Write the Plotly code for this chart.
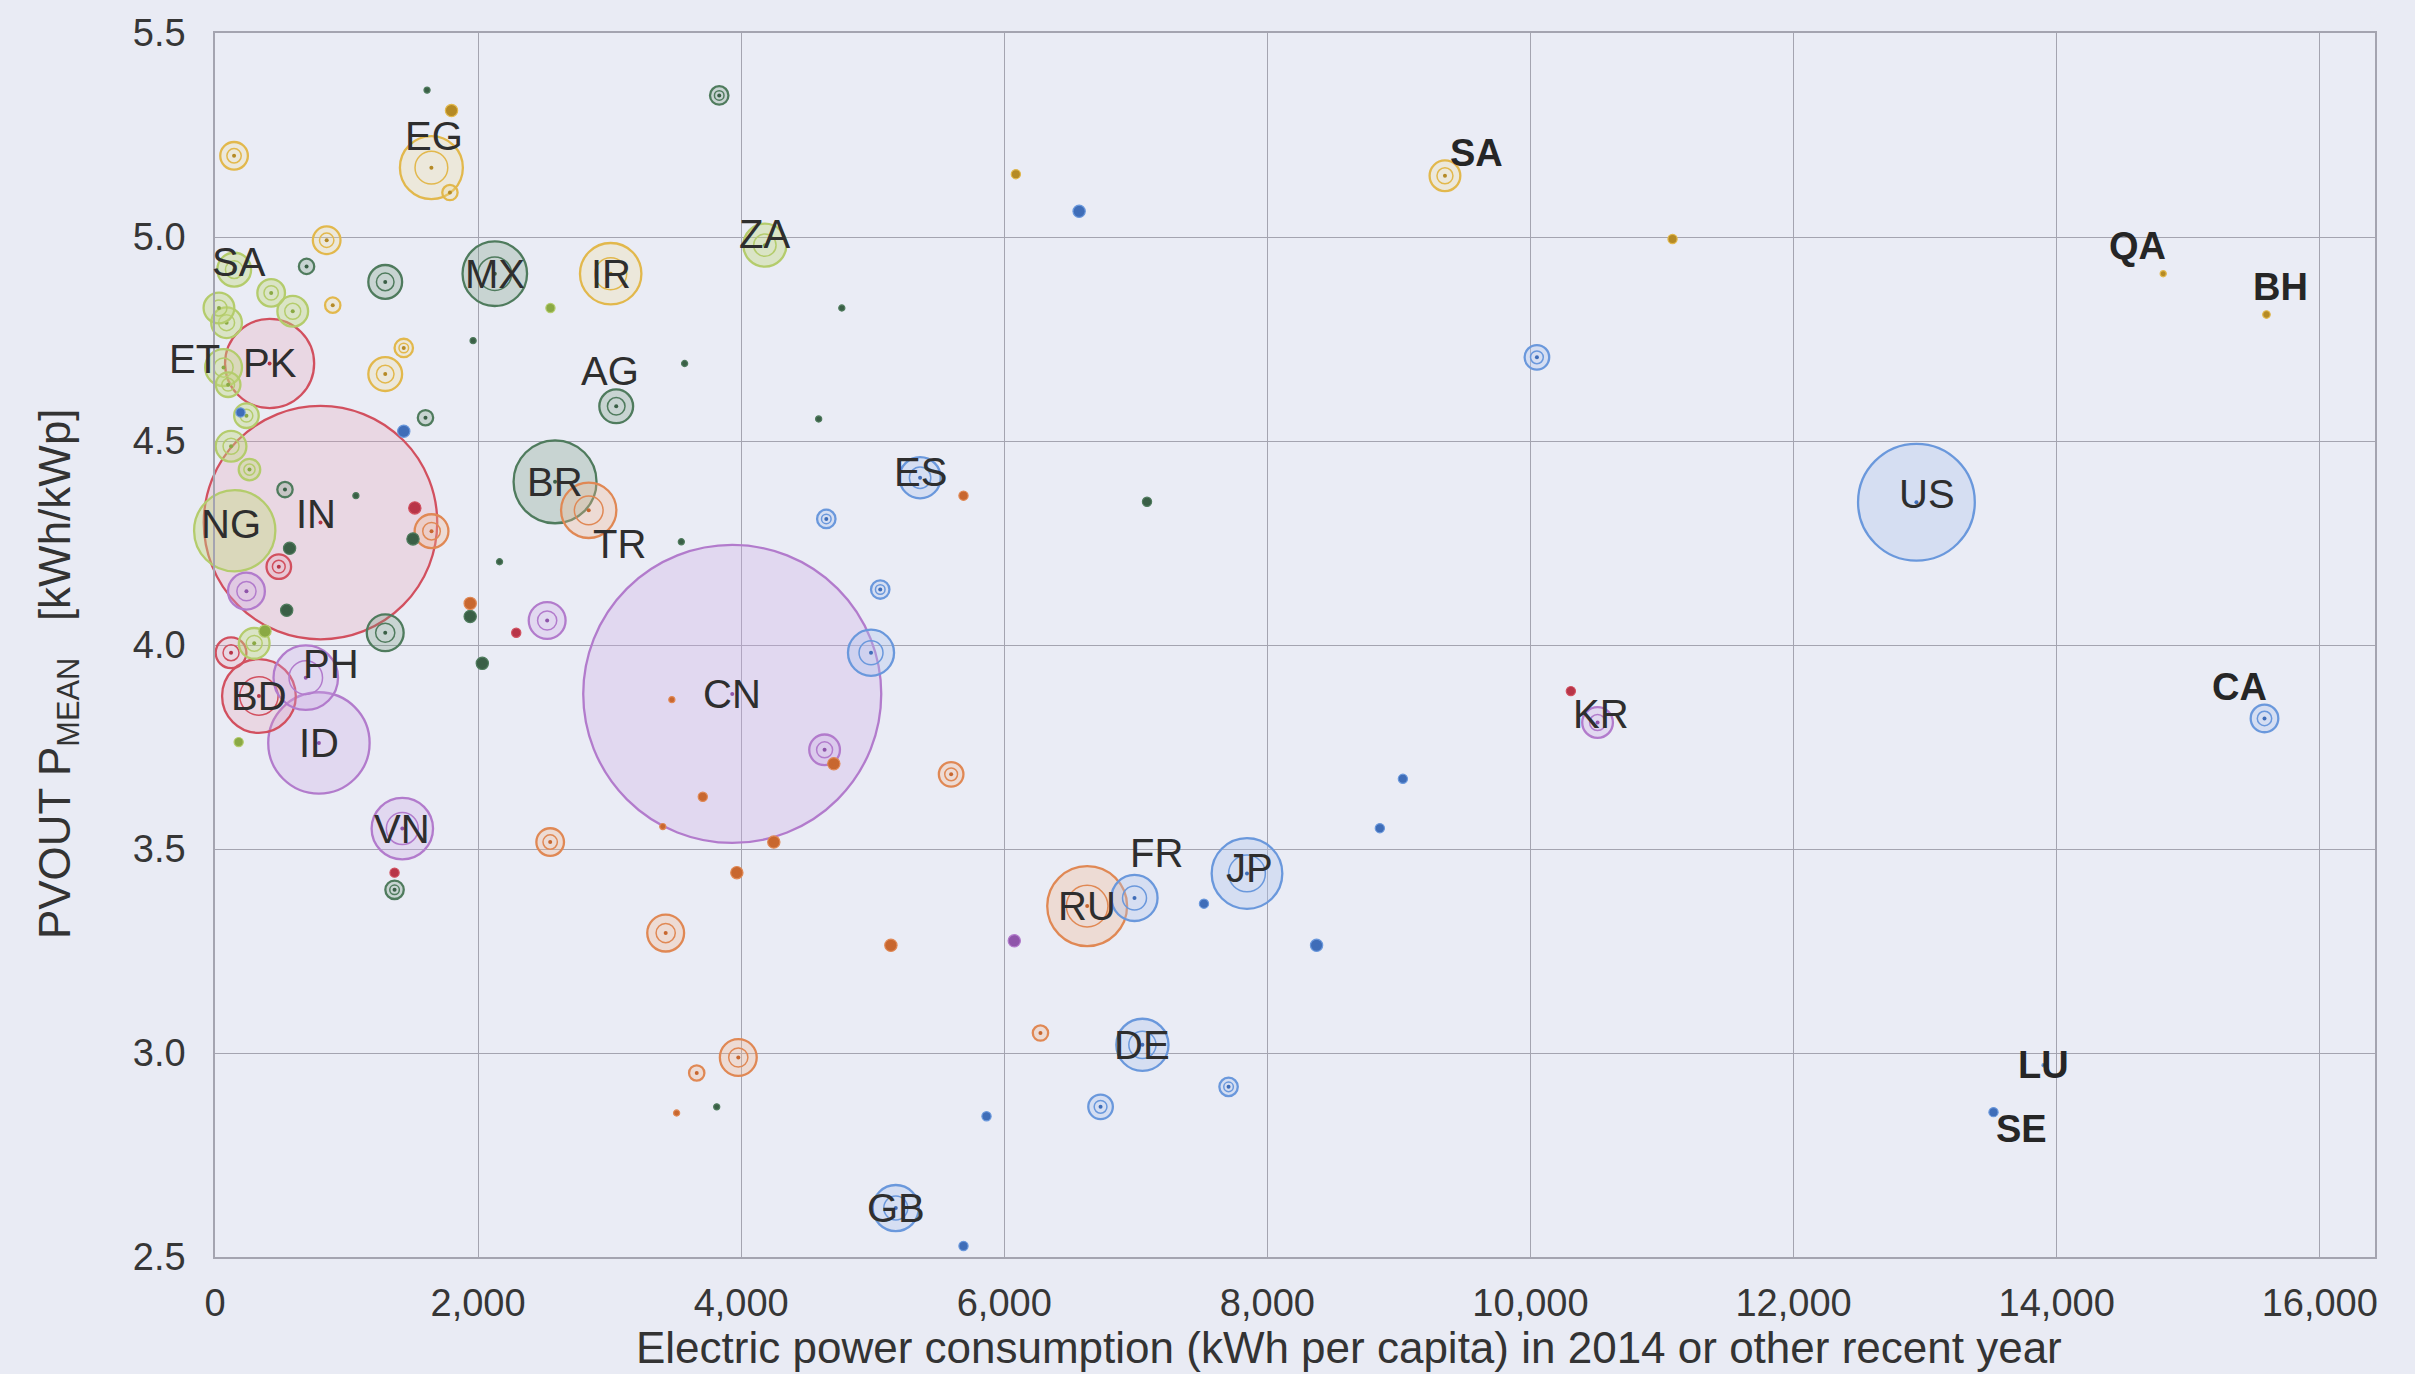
import numpy as np
import plotly.graph_objects as go

# Country code (blank = unlabelled), per-capita electricity use, mean PV output,
# bubble weight and regional group
codes = [
    "IN", "CN", "US", "PK", "BD", "ID", "PH", "NG", "VN", "BR",
    "MX", "IR", "EG", "ZA", "AG", "TR", "ES", "RU", "FR", "JP",
    "DE", "GB", "KR", "CA", "SA", "QA", "BH", "SE", "LU", "ET",
    "SA",
    "", "", "", "", "", "", "", "", "", "",
    "", "", "", "", "", "", "", "", "", "",
    "", "", "", "", "", "", "", "", "", "",
    "", "", "", "", "", "", "", "", "", "",
    "", "", "", "", "", "", "", "", "", "",
    "", "", "", "", "", "", "", "", "", "",
    "", "", "", "", "", "", "",
]
kwh = [
    802, 3932, 12934, 415, 334, 790, 690, 150, 1424, 2585,
    2127, 3008, 1645, 4180, 3050, 2841, 5360, 6630, 6990, 7845,
    7050, 5175, 10510, 15580, 9350, 14810, 15595, 13520, 13900, 65,
    146,
    3833, 145, 1786, 1798, 1612, 6088, 6569, 11080, 10049, 849,
    696, 1294, 895, 427, 591, 1294, 1435, 1600, 1435, 2550,
    3570, 4765, 4589, 4647, 5057, 5690, 7085, 3545, 2163, 1940,
    1940, 2525, 2290, 2032, 1294, 1646, 1519, 1505, 4987, 4634,
    4704, 5596, 3473, 3708, 3404, 4248, 2548, 3967, 3426, 5138,
    6076, 7518, 8374, 8855, 9030, 10307, 6275, 3978, 3662, 3814,
    3509, 5865, 6732, 7705, 5690, 1365, 1365,
]
pvout = [
    4.30, 3.88, 4.35, 4.69, 3.875, 3.76, 3.92, 4.28, 3.55, 4.40,
    4.91, 4.91, 5.17, 4.98, 4.585, 4.33, 4.41, 3.36, 3.38, 3.44,
    3.02, 2.62, 3.81, 3.82, 5.15, 4.91, 4.81, 2.855, 2.97, 4.68,
    4.92,
    5.347, 5.199, 5.109, 5.31, 5.36, 5.154, 5.063, 4.995, 4.705, 4.992,
    4.928, 4.89, 4.833, 4.863, 4.818, 4.664, 4.728, 4.557, 4.524, 4.826,
    4.69, 4.826, 4.554, 4.309, 4.136, 4.366, 4.351, 4.253, 4.204, 4.102,
    4.07, 4.06, 4.03, 3.955, 4.03, 4.279, 4.336, 4.26, 3.981, 3.743,
    3.709, 3.683, 3.866, 3.628, 3.555, 3.517, 3.517, 3.442, 3.294, 3.264,
    3.275, 3.366, 3.264, 3.551, 3.672, 3.887, 3.049, 2.989, 2.951, 2.868,
    2.853, 2.845, 2.868, 2.917, 2.527, 3.442, 3.40,
]
weight = [
    5776, 9409, 1444, 841, 576, 1089, 441, 700, 400, 729,
    441, 400, 420, 196, 121, 324, 180, 676, 225, 529,
    289, 225, 100, 81, 100, 4, 6, 9, 1, 144,
    121,
    36, 81, 25, 16, 4, 9, 16, 9, 64, 81,
    25, 121, 25, 81, 100, 121, 36, 25, 16, 9,
    4, 4, 4, 36, 36, 9, 9, 4, 4, 16,
    16, 144, 9, 16, 144, 121, 16, 16, 225, 100,
    16, 64, 4, 9, 4, 16, 81, 16, 144, 16,
    16, 9, 16, 9, 9, 9, 25, 144, 25, 4,
    4, 9, 64, 36, 9, 9, 36,
]
region = [
    "R", "P", "B", "R", "R", "P", "P", "L", "P", "G",
    "G", "Y", "Y", "L", "G", "O", "B", "O", "B", "B",
    "B", "B", "P", "B", "Y", "Y", "Y", "B", "B", "L",
    "L",
    "G", "Y", "Y", "Y", "G", "Y", "B", "Y", "B", "Y",
    "G", "G", "Y", "L", "L", "Y", "Y", "G", "B", "L",
    "G", "G", "G", "B", "B", "O", "G", "G", "G", "O",
    "G", "P", "R", "G", "G", "O", "R", "G", "B", "P",
    "O", "O", "O", "O", "O", "O", "O", "O", "O", "O",
    "P", "B", "B", "B", "B", "R", "O", "O", "O", "G",
    "O", "B", "B", "B", "B", "R", "G",
]
# a few extra small points clustered near the vertical axis
extra_kwh = [122, 239, 100, 30, 262, 298, 380, 239, 122, 485, 567, 532, 1071, 180, 545, 1962, 194, 88]
extra_pv = [4.487, 4.562, 4.638, 4.826, 4.43, 4.004, 4.034, 4.132, 3.981, 4.192, 4.237, 4.381, 4.366, 3.762, 4.085, 4.746, 4.57, 4.79]
extra_w = [100, 64, 64, 100, 49, 100, 16, 144, 100, 64, 16, 25, 4, 9, 16, 4, 9, 100]
extra_region = ["L", "L", "L", "L", "L", "L", "L", "P", "R", "R", "G", "G", "G", "L", "G", "G", "B", "L"]

kwh += extra_kwh
pvout += extra_pv
weight += extra_w
region += extra_region
codes += [""] * len(extra_kwh)

palette = {
    "R": ("#d2505f", "rgba(228,150,170,0.24)", "#b83548"),
    "P": ("#b27bcc", "rgba(205,170,228,0.30)", "#8f55aa"),
    "G": ("#4f7b5d", "rgba(110,150,120,0.28)", "#3a5f46"),
    "Y": ("#e2b84c", "rgba(240,222,150,0.28)", "#b58a25"),
    "L": ("#b4cc6c", "rgba(196,218,128,0.40)", "#8aa944"),
    "B": ("#6a98dc", "rgba(172,196,236,0.34)", "#3f6db8"),
    "O": ("#e08854", "rgba(242,182,142,0.32)", "#c8672f"),
}

# label offsets (px) and emphasis
label_style = {
    "IN": (-5, 9, False), "PH": (25, 14, False), "EG": (3, 32, False),
    "ZA": (0, 11, False), "AG": (-6, 35, False), "TR": (31, -34, False),
    "ES": (0, 6, False), "FR": (22, 45, False), "JP": (3, 5, False),
    "KR": (3, 9, False), "US": (11, 8, False), "NG": (-4, 7, False),
    "ET": (-29, 9, False), "CA": (-25, 31, True), "QA": (-26, 28, True),
    "BH": (14, 28, True), "SE": (28, -17, True), "LU": (0, 0, True),
}

D_MAX = 298.0
w_arr = np.array(weight, dtype=float)
diam = D_MAX * np.sqrt(w_arr / w_arr.max())
order = np.argsort(-w_arr)

fig = go.Figure()

# outer bubbles, largest first so smaller ones stay visible
for i in order:
    line_c, fill_c, dot_c = palette[region[i]]
    d = float(diam[i])
    fill = fill_c if d >= 14 else dot_c
    fig.add_trace(go.Scatter(
        x=[kwh[i]], y=[pvout[i]], mode="markers",
        marker=dict(size=d, color=fill,
                    line=dict(color=line_c, width=2.3 if d >= 14 else 1.2)),
        hoverinfo="skip", showlegend=False, cliponaxis=False,
    ))
    if 16 <= d <= 80:
        fig.add_trace(go.Scatter(
            x=[kwh[i]], y=[pvout[i]], mode="markers",
            marker=dict(size=d * 0.52, color="rgba(0,0,0,0)",
                        line=dict(color=line_c, width=1.5)),
            hoverinfo="skip", showlegend=False,
        ))
    if d >= 10:
        fig.add_trace(go.Scatter(
            x=[kwh[i]], y=[pvout[i]], mode="markers",
            marker=dict(size=4, color=dot_c, line=dict(width=0)),
            hoverinfo="skip", showlegend=False,
        ))

annotations = []
for i, code in enumerate(codes):
    if not code:
        continue
    if code == "SA" and kwh[i] > 5000:
        dx, dy, bold = 32, 23, True
    elif code == "SA":
        dx, dy, bold = 5, 8, False
    else:
        dx, dy, bold = label_style.get(code, (0, 0, False))
    if bold:
        font = dict(family="Liberation Sans Narrow, Arial Narrow, Liberation Sans",
                    size=38, color="#262626", weight="bold")
    else:
        font = dict(family="Liberation Sans, Arial", size=40, color="#2e2e2e")
    annotations.append(dict(
        x=kwh[i], y=pvout[i], xref="x", yref="y", text=code,
        showarrow=False, xshift=dx, yshift=dy, font=font,
        xanchor="center", yanchor="middle",
    ))

annotations.append(dict(
    x=0.525, y=-0.074, xref="paper", yref="paper", showarrow=False,
    text="Electric power consumption (kWh per capita) in 2014 or other recent year",
    font=dict(family="Liberation Sans, Arial", size=44, color="#333333"),
    xanchor="center", yanchor="middle",
))
annotations.append(dict(
    x=-0.0727, y=0.477, xref="paper", yref="paper", showarrow=False,
    text="PVOUT P<sub>MEAN</sub>   [kWh/kWp]", textangle=-90,
    font=dict(family="Liberation Sans, Arial", size=44, color="#333333"),
    xanchor="center", yanchor="middle",
))

grid_c = "#a4a4b0"
tick_font = dict(family="Liberation Sans, Arial", size=38, color="#363636")

fig.update_layout(
    width=2415, height=1374,
    margin=dict(l=215, r=40, t=33, b=117),
    paper_bgcolor="#e9ebf4", plot_bgcolor="#eaecf5",
    annotations=annotations,
    showlegend=False,
    xaxis=dict(
        range=[0, 16420], tickvals=list(range(0, 16001, 2000)),
        tickformat=",", showgrid=True, gridcolor=grid_c, gridwidth=1.3,
        showline=True, linecolor=grid_c, linewidth=1.5, mirror=True,
        zeroline=False, tickfont=tick_font, ticks="", ticklabelstandoff=12,
    ),
    yaxis=dict(
        range=[2.5, 5.5], tickvals=[2.5, 3.0, 3.5, 4.0, 4.5, 5.0, 5.5],
        tickformat=".1f", showgrid=True, gridcolor=grid_c, gridwidth=1.3,
        showline=True, linecolor=grid_c, linewidth=1.5, mirror=True,
        zeroline=False, tickfont=tick_font, ticks="", ticklabelstandoff=20,
    ),
)

fig.write_html("out.html")
